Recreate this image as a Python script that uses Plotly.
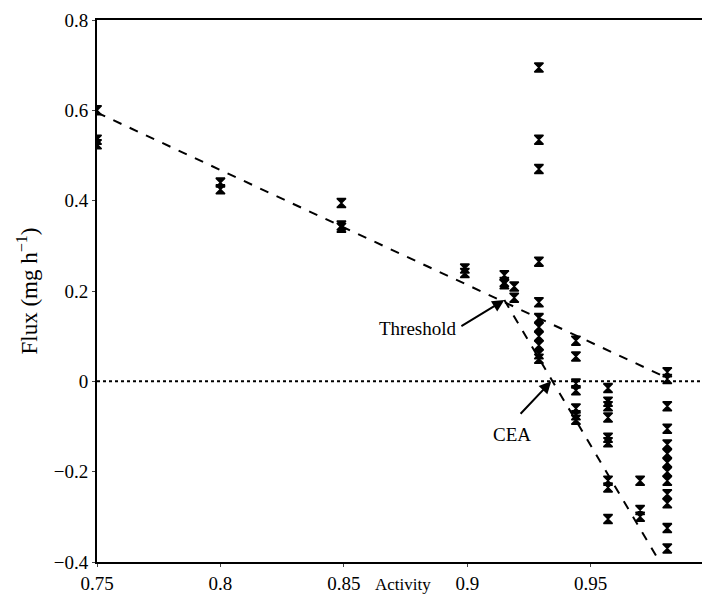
import plotly.graph_objects as go

act_x = [0.75, 0.75, 0.75,
         0.8, 0.8,
         0.849, 0.849, 0.849,
         0.899, 0.899,
         0.915, 0.915, 0.915,
         0.919, 0.919,
         0.929, 0.929, 0.929, 0.929, 0.929, 0.929, 0.929, 0.929, 0.929, 0.929, 0.929,
         0.944, 0.944, 0.944, 0.944, 0.944, 0.944, 0.944,
         0.957, 0.957, 0.957, 0.957, 0.957, 0.957, 0.957, 0.957, 0.957,
         0.970, 0.970, 0.970,
         0.981, 0.981, 0.981, 0.981, 0.981, 0.981, 0.981, 0.981, 0.981, 0.981, 0.981, 0.981, 0.981]
flux_y = [0.6, 0.535, 0.525,
          0.44, 0.425,
          0.395, 0.345, 0.34,
          0.25, 0.24,
          0.235, 0.22, 0.215,
          0.21, 0.185,
          0.695, 0.535, 0.47, 0.265, 0.175, 0.14, 0.12, 0.1, 0.08, 0.06, 0.05,
          0.09, 0.055, -0.005, -0.02, -0.06, -0.075, -0.085,
          -0.015, -0.045, -0.055, -0.08, -0.125, -0.135, -0.22, -0.235, -0.305,
          -0.22, -0.285, -0.3,
          0.02, 0.005, -0.055, -0.105, -0.14, -0.16, -0.18, -0.2, -0.22, -0.25, -0.27, -0.325, -0.37]

fit1_x = [0.75, 0.98]
fit1_y = [0.595, 0.01]
fit2_x = [0.915, 0.978]
fit2_y = [0.18, -0.4]

fig = go.Figure()
fig.add_trace(go.Scatter(x=[0.75, 1.0], y=[0, 0], mode="lines",
                         line=dict(color="black", width=2, dash="dot")))
fig.add_trace(go.Scatter(x=fit1_x, y=fit1_y, mode="lines",
                         line=dict(color="black", width=2, dash="dash")))
fig.add_trace(go.Scatter(x=fit2_x, y=fit2_y, mode="lines",
                         line=dict(color="black", width=2, dash="dash")))
fig.add_trace(go.Scatter(x=act_x, y=flux_y, mode="markers",
                         marker=dict(symbol="hourglass", size=9, color="black",
                                     line=dict(color="black", width=1.5))))

fig.add_annotation(x=0.915, y=0.18, ax=0.897, ay=0.12, xref="x", yref="y",
                   axref="x", ayref="y", text="", showarrow=True, arrowcolor="black",
                   arrowhead=2, arrowsize=1.2, arrowwidth=2)
fig.add_annotation(x=0.880, y=0.118, text="Threshold", showarrow=False)
fig.add_annotation(x=0.934, y=0.0, ax=0.921, ay=-0.075, xref="x", yref="y",
                   axref="x", ayref="y", text="", showarrow=True, arrowcolor="black",
                   arrowhead=2, arrowsize=1.2, arrowwidth=2)
fig.add_annotation(x=0.918, y=-0.118, text="CEA", showarrow=False)
fig.add_annotation(x=0.5, y=0, xref="paper", yref="paper", yshift=-22,
                   yanchor="middle", text="Activity", showarrow=False,
                   font_size=17)

fig.update_layout(
    width=710, height=598, showlegend=False, template="none",
    plot_bgcolor="white", paper_bgcolor="white",
    margin=dict(l=89, r=10, t=12, b=44, autoexpand=False),
    font=dict(family="Liberation Serif", size=19, color="black"),
)
fig.update_xaxes(range=[0.75, 0.9975], tickvals=[0.75, 0.8, 0.85, 0.9, 0.95],
                 ticktext=["0.75", "0.8", "0.85", "0.9", "0.95"],
                 tickfont_family="Liberation Serif", tickfont_size=19,
                 showgrid=False, zeroline=False, showline=True, linecolor="black",
                 linewidth=2, mirror=True, ticks="outside", ticklen=3)
fig.update_yaxes(range=[-0.4, 0.8], tickvals=[-0.4, -0.2, 0, 0.2, 0.4, 0.6, 0.8],
                 ticktext=["\u22120.4", "\u22120.2", "0", "0.2", "0.4", "0.6", "0.8"],
                 tickfont_family="Liberation Serif", tickfont_size=19,
                 showgrid=False, zeroline=False, showline=True, linecolor="black",
                 linewidth=2, mirror=True, ticks="outside", ticklen=3,
                 title_text="Flux (mg h<sup>\u22121</sup>)", title_standoff=10)
fig.write_html("out.html")
